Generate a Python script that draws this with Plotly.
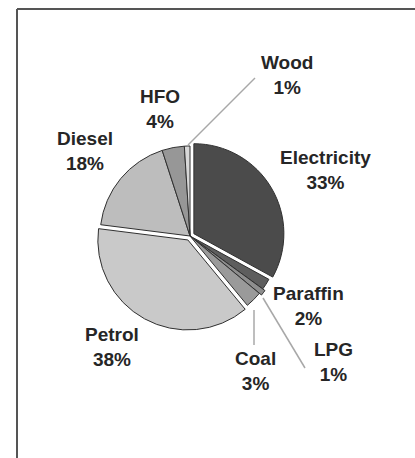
import plotly.graph_objects as go

labels = ["Electricity", "Paraffin", "LPG", "Coal", "Petrol", "Diesel", "HFO", "Wood"]
values = [33, 2, 1, 3, 38, 18, 4, 1]
colors = ["#4b4b4b", "#5e5e5e", "#8e8e8e", "#9a9a9a", "#c9c9c9", "#bdbdbd", "#979797", "#d8d8d8"]
pulls = [0.05, 0, 0.03, 0, 0.05, 0, 0, 0]

W, H = 415, 458
cx, cy, r = 190, 236, 90
half = r * (1 + max(pulls))

def px(x):
    return x / W

def py(y):
    return 1 - y / H

fig = go.Figure(go.Pie(
    labels=labels, values=values, sort=False, direction="clockwise", rotation=0,
    marker=dict(colors=colors, line=dict(color="#303030", width=1)),
    pull=pulls, textinfo="none", hoverinfo="label+percent", showlegend=False,
    domain=dict(x=[px(cx - half), px(cx + half)], y=[py(cy + half), py(cy - half)]),
))

label_pos = {
    "Electricity": (325, 170),
    "Paraffin": (308, 306),
    "LPG": (333, 362),
    "Coal": (255, 371),
    "Petrol": (112, 347),
    "Diesel": (85, 151),
    "HFO": (160, 109),
    "Wood": (287, 75),
}
total = sum(values)
for lab, val in zip(labels, values):
    x, y = label_pos[lab]
    fig.add_annotation(
        x=px(x), y=py(y), xref="paper", yref="paper", showarrow=False,
        text=f"<b>{lab}<br>{round(100 * val / total)}%</b>",
        font=dict(family="Liberation Sans, Arial, sans-serif", size=19, color="#262626"),
        xanchor="center", yanchor="middle", align="center",
    )

leaders = [((255, 78), (188, 145)), ((254, 310), (254, 345)), ((263, 298), (305, 368))]
for (x0, y0), (x1, y1) in leaders:
    fig.add_shape(type="line", xref="paper", yref="paper",
                  x0=px(x0), y0=py(y0), x1=px(x1), y1=py(y1),
                  line=dict(color="#a8a8a8", width=1.5))

# frame: only left and top edges are visible
for (x0, y0), (x1, y1) in [((17, 9), (17, H)), ((17, 9), (W, 9))]:
    fig.add_shape(type="line", xref="paper", yref="paper",
                  x0=px(x0), y0=py(y0), x1=px(x1), y1=py(y1),
                  line=dict(color="#555555", width=2))

fig.update_layout(width=W, height=H, margin=dict(l=0, r=0, t=0, b=0),
                  paper_bgcolor="white", plot_bgcolor="white")
fig.write_html("out.html", config={"displayModeBar": False})
